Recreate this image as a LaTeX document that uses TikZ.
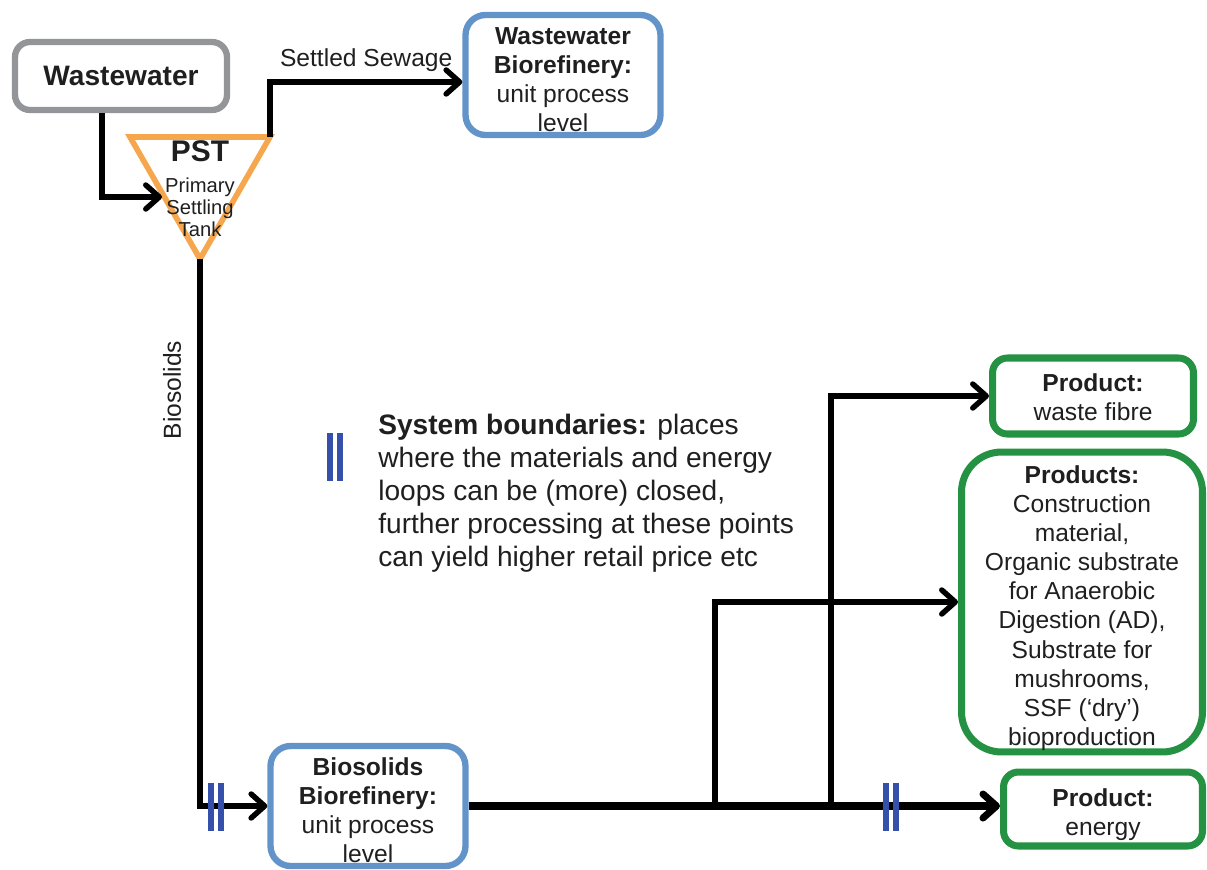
\documentclass[tikz,border=0pt]{standalone}
\usepackage{fontspec}
\setmainfont{Liberation Sans}
\usetikzlibrary{positioning,arrows.meta}
\definecolor{wwgrey}{RGB}{148,149,153}
\definecolor{pstorange}{RGB}{246,166,77}
\definecolor{refblue}{RGB}{99,148,201}
\definecolor{prodgreen}{RGB}{36,146,66}
\definecolor{bndblue}{RGB}{52,80,170}

\begin{document}
\begin{tikzpicture}[x=0.02cm,y=-0.02cm,
	every node/.style={align=center,text=black!88,font=\fontsize{14}{16.5}\selectfont},
	box/.style={draw,rounded corners=0.4cm,line width=3.6pt,inner sep=0pt},
	prod/.style={box,draw=prodgreen,line width=4pt,rounded corners=0.3cm},
	flow/.style={line width=3.1pt,-{Straight Barb[length=0.27cm,width=0.48cm,round]}},
	bnd/.style={draw=bndblue,line width=3.3pt}]
\useasboundingbox (0,0) rectangle (1207,869);

\node[box,draw=wwgrey,rounded corners=0.3cm,minimum width=4.24cm,minimum height=1.36cm,font=\fontsize{16}{19}\selectfont\bfseries] (ww) at (121,76) {Wastewater};
\node[box,draw=refblue,minimum width=3.9cm,minimum height=2.4cm] (wwb) at (563,75) {\textbf{Wastewater}\rule{0pt}{15pt}\\\textbf{Biorefinery:}\\unit process\\level};
\node[box,draw=refblue,minimum width=3.9cm,minimum height=2.4cm] (bsb) at (368,806) {\textbf{Biosolids}\rule{0pt}{15pt}\\\textbf{Biorefinery:}\\unit process\\level};
\node[prod,minimum width=4.02cm,minimum height=1.52cm] (pwf) at (1093,396) {\textbf{Product:}\rule{0pt}{12pt}\\waste fibre};
\node[prod,rounded corners=0.8cm,minimum width=4.82cm,minimum height=6cm,font=\fontsize{14}{16.6}\selectfont] (pds) at (1082,602) {\textbf{Products:}\rule{0pt}{17pt}\\Construction\\material,\\Organic substrate\\for Anaerobic\\Digestion (AD),\\Substrate for\\mushrooms,\\SSF (‘dry’)\\bioproduction};
\node[prod,minimum width=3.98cm,minimum height=1.48cm] (pe) at (1103,809) {\textbf{Product:}\rule{0pt}{16pt}\\energy};

\coordinate (pstl) at (130,137);
\coordinate (pstr) at (270,137);
\coordinate (pstb) at (200,259);
\coordinate (pstin) at (162,197);
\draw[pstorange,line width=3.2pt] (pstl) -- (pstr) -- (pstb) -- cycle;
\node[font=\fontsize{11.5}{12.6}\selectfont] (pst) at (200,189) {{\fontsize{17}{17}\selectfont\bfseries PST}\\[5pt]Primary\\Settling\\Tank};

\draw[flow] ([xshift=-0.38cm]ww.south) |- (pstin);
\draw[flow] (pstr) |- ([yshift=-0.14cm]wwb.west) node[pos=0.75,above=1pt] (sslabel) {Settled Sewage};
\draw[flow] (pstb) |- (bsb.west);
\node[rotate=90] (bslabel) at (172,390) {Biosolids};

\coordinate (j1) at (715,806);
\coordinate (j2) at (831,806);
\draw[flow,line width=4pt] (bsb.east) -- (bsb.east -| pe.west);
\draw[flow] (j1) |- (pds.west);
\draw[flow] (j2) |- (pwf.west);

\foreach \x/\y in {216/807,891/807,335/457}
	\draw[bnd] (\x,\y) +(-5,-24) -- +(-5,24) +(5,-24) -- +(5,24);

\node[anchor=north west,align=left,inner sep=0pt,font=\fontsize{16}{18.8}\selectfont] (sysb) at (378,414) {\textbf{System boundaries:} places\\where the materials and energy\\loops can be (more) closed,\\further processing at these points\\can yield higher retail price etc};
\end{tikzpicture}
\end{document}
